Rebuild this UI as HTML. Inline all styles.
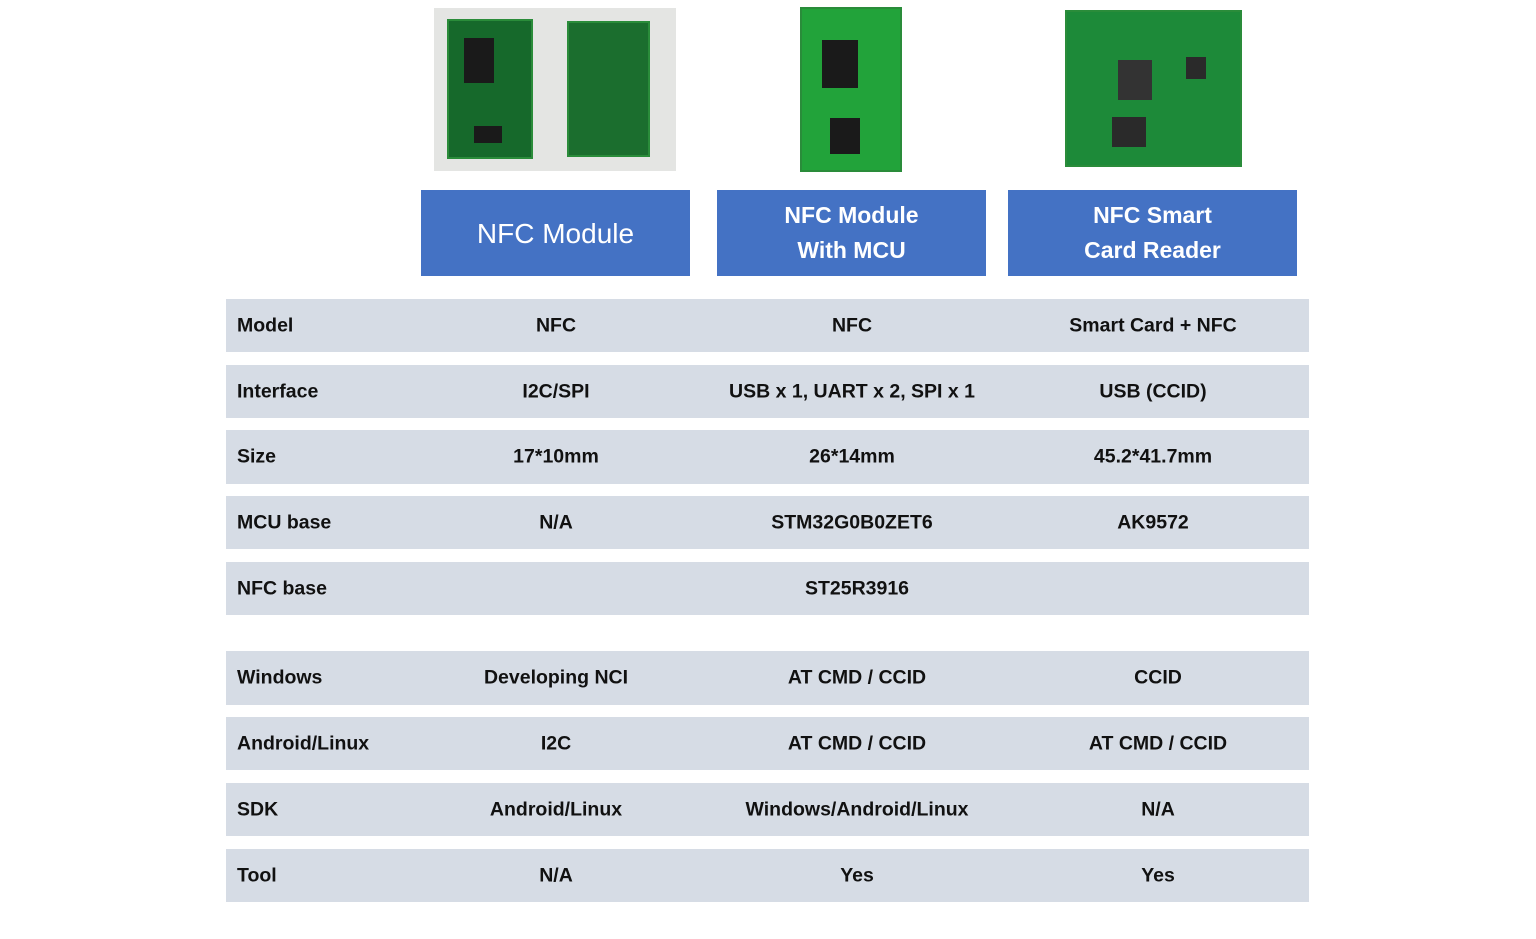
<!DOCTYPE html>
<html><head><meta charset="utf-8"><style>
body{margin:0;width:1536px;height:939px;background:#fff;position:relative;overflow:hidden;font-family:"Liberation Sans",sans-serif}
.a{position:absolute}
.hb{position:absolute;top:190px;height:86px;background:#4472C4;color:#fff;display:flex;align-items:center;justify-content:center;text-align:center;font-weight:bold;font-size:23px;line-height:35px}
.row{position:absolute;left:226px;width:1083px;height:53px;background:#D6DCE5;font-weight:bold;font-size:19.5px;color:#111}
.row span{position:absolute;top:50%;transform:translate(-50%,-50%);white-space:nowrap}
.row span.l{left:11px;transform:translateY(-50%)}
.pcb{position:absolute;background:#1f7a33;border:2px solid #2a8c3a;box-sizing:border-box}
.chip{position:absolute;background:#1a1a1a}
</style></head><body>
<!-- images -->
<div class="a" style="left:434px;top:8px;width:242px;height:163px;background:#e4e5e3"></div>
<div class="pcb" style="left:447px;top:19px;width:86px;height:140px;background:#16692b"></div>
<div class="chip" style="left:464px;top:38px;width:30px;height:45px"></div>
<div class="chip" style="left:474px;top:126px;width:28px;height:17px"></div>
<div class="pcb" style="left:567px;top:21px;width:83px;height:136px;background:#1b6e2e"></div>
<div class="pcb" style="left:800px;top:7px;width:102px;height:165px;background:#22a33a"></div>
<div class="chip" style="left:822px;top:40px;width:36px;height:48px"></div>
<div class="chip" style="left:830px;top:118px;width:30px;height:36px"></div>
<div class="pcb" style="left:1065px;top:10px;width:177px;height:157px;background:#1d8a39"></div>
<div class="chip" style="left:1118px;top:60px;width:34px;height:40px;background:#333"></div>
<div class="chip" style="left:1112px;top:117px;width:34px;height:30px;background:#2a2a2a"></div>
<div class="chip" style="left:1186px;top:57px;width:20px;height:22px;background:#2a2a2a"></div>
<!-- headers -->
<div class="hb" style="left:421px;width:269px;font-weight:normal;font-size:28px">NFC Module</div>
<div class="hb" style="left:717px;width:269px">NFC Module<br>With MCU</div>
<div class="hb" style="left:1008px;width:289px">NFC Smart<br>Card Reader</div>
<!-- rows -->
<div class="row" style="top:299px"><span class="l">Model</span><span style="left:330px">NFC</span><span style="left:626px">NFC</span><span style="left:927px">Smart Card + NFC</span></div>
<div class="row" style="top:365px"><span class="l">Interface</span><span style="left:330px">I2C/SPI</span><span style="left:626px">USB x 1, UART x 2, SPI x 1</span><span style="left:927px">USB (CCID)</span></div>
<div class="row" style="top:430px;height:54px"><span class="l">Size</span><span style="left:330px">17*10mm</span><span style="left:626px">26*14mm</span><span style="left:927px">45.2*41.7mm</span></div>
<div class="row" style="top:496px"><span class="l">MCU base</span><span style="left:330px">N/A</span><span style="left:626px">STM32G0B0ZET6</span><span style="left:927px">AK9572</span></div>
<div class="row" style="top:562px"><span class="l">NFC base</span><span style="left:631px">ST25R3916</span></div>
<div class="row" style="top:651px;height:54px"><span class="l">Windows</span><span style="left:330px">Developing NCI</span><span style="left:631px">AT CMD / CCID</span><span style="left:932px">CCID</span></div>
<div class="row" style="top:717px"><span class="l">Android/Linux</span><span style="left:330px">I2C</span><span style="left:631px">AT CMD / CCID</span><span style="left:932px">AT CMD / CCID</span></div>
<div class="row" style="top:783px"><span class="l">SDK</span><span style="left:330px">Android/Linux</span><span style="left:631px">Windows/Android/Linux</span><span style="left:932px">N/A</span></div>
<div class="row" style="top:849px"><span class="l">Tool</span><span style="left:330px">N/A</span><span style="left:631px">Yes</span><span style="left:932px">Yes</span></div>
</body></html>
